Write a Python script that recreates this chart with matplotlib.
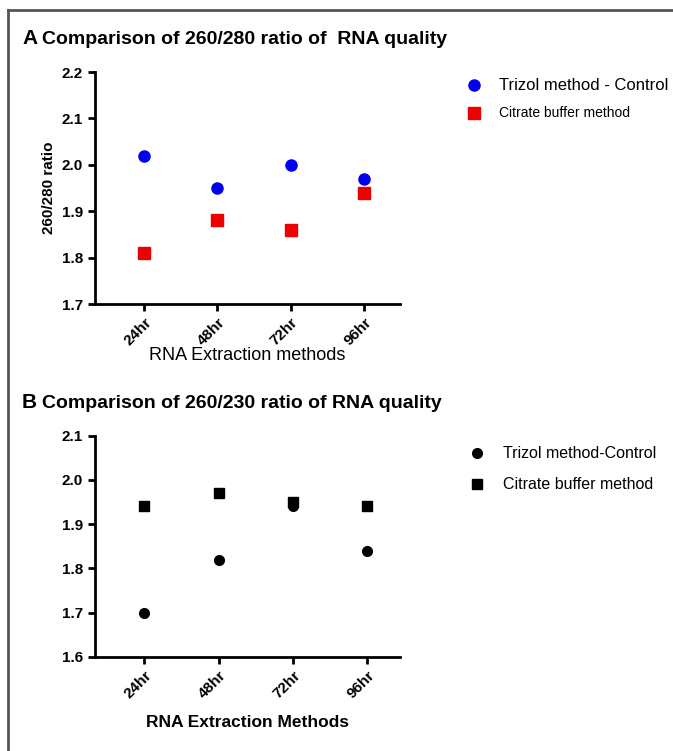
import numpy as np
import matplotlib
matplotlib.use('Agg')
import matplotlib.pyplot as plt
from matplotlib.lines import Line2D

plt.rcParams['font.family'] = ['Liberation Sans', 'DejaVu Sans']

times = ['24hr', '48hr', '72hr', '96hr']
ratio280_trizol = [2.02, 1.95, 2.00, 1.97]
ratio280_citrate = [1.81, 1.88, 1.86, 1.94]
ratio230_trizol = [1.70, 1.82, 1.94, 1.84]
ratio230_citrate = [1.94, 1.97, 1.95, 1.94]

fig = plt.figure(figsize=(6.73, 7.51), dpi=100)

# gray frame round the figure (top and left edges visible)
fig.add_artist(Line2D([8/673, 1.0], [1 - 9.5/751, 1 - 9.5/751], color='#555555', lw=2))
fig.add_artist(Line2D([8/673, 8/673], [0, 1 - 9.5/751], color='#555555', lw=2))

x = np.arange(len(times))

def style_axis(ax, ylo, yhi):
    for s in ['top', 'right']:
        ax.spines[s].set_visible(False)
    for s in ['left', 'bottom']:
        ax.spines[s].set_linewidth(2)
    ax.set_ylim(ylo, yhi)
    ax.set_yticks(np.round(np.arange(ylo, yhi + 0.001, 0.1), 1))
    ax.yaxis.set_major_formatter(matplotlib.ticker.FormatStrFormatter('%.1f'))
    ax.set_xticks(x)
    ax.set_xticklabels(times, rotation=45, ha='right', rotation_mode='anchor',
                       fontsize=11, fontweight='bold')
    ax.tick_params(width=2, length=5, labelsize=11)
    for lbl in ax.get_yticklabels():
        lbl.set_fontweight('bold')

# panel A
ax1 = fig.add_axes([0.1412, 0.5952, 0.4532, 0.3089])
ax1.plot(x, ratio280_trizol, 'o', color='#0000ee', ms=8, label='Trizol method - Control')
ax1.plot(x, ratio280_citrate, 's', color='#ee0000', ms=8, label='Citrate buffer method')
style_axis(ax1, 1.7, 2.2)
ax1.set_xlim(-0.67, 3.49)
ax1.set_ylabel('260/280 ratio', fontsize=11, fontweight='bold', labelpad=4)
ax1.set_xlabel('RNA Extraction methods', fontsize=13, labelpad=-1)
fig.text(22/673, 1 - 39/751, 'A', fontsize=15, fontweight='bold', va='center')
fig.text(42/673, 1 - 39/751, 'Comparison of 260/280 ratio of  RNA quality',
         fontsize=14, fontweight='bold', va='center')
leg1 = ax1.legend(loc='upper left', bbox_to_anchor=(1.18, 1.0), frameon=False,
                  handletextpad=0.8, labelspacing=1.0, borderaxespad=0)
leg1.get_texts()[0].set_fontsize(12)
leg1.get_texts()[1].set_fontsize(10)

# panel B
ax2 = fig.add_axes([0.1412, 0.1252, 0.4532, 0.2947])
ax2.plot(x, ratio230_trizol, 'o', color='black', ms=7, label='Trizol method-Control')
ax2.plot(x, ratio230_citrate, 's', color='black', ms=7, label='Citrate buffer method')
style_axis(ax2, 1.6, 2.1)
ax2.set_xlim(-0.66, 3.44)
ax2.set_xlabel('RNA Extraction Methods', fontsize=12.5, fontweight='bold', labelpad=10)
fig.text(22/673, 1 - 403/751, 'B', fontsize=15, fontweight='bold', va='center')
fig.text(42/673, 1 - 403/751, 'Comparison of 260/230 ratio of RNA quality',
         fontsize=14, fontweight='bold', va='center')
ax2.legend(loc='upper left', bbox_to_anchor=(1.18, 0.98), frameon=False,
           handletextpad=0.6, labelspacing=1.0, borderaxespad=0, fontsize=11.5)

plt.savefig('out.png', dpi=100)
